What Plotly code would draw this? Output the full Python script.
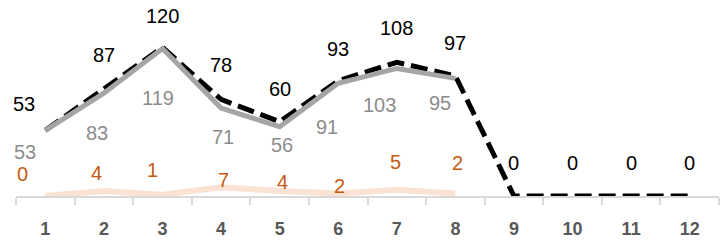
import plotly.graph_objects as go

categories = ["1", "2", "3", "4", "5", "6", "7", "8", "9", "10", "11", "12"]
series_black = [53, 87, 120, 78, 60, 93, 108, 97, 0, 0, 0, 0]
series_gray = [53, 83, 119, 71, 56, 91, 103, 95]
series_peach = [0, 4, 1, 7, 4, 2, 5, 2]

# label pixel offsets (style, not data)
black_dx = [-21, 0, 0, 0, 0, 0, 0, 0, 0, 0, 0, 0]
black_dy = [26, 33, 31, 34, 33, 32, 34, 33, 33, 33, 33, 33]
gray_dx = [-20, -7, -4, 2, 2, -11, -17, -15]
gray_dy = [-22, -40, -49, -29, -18, -44, -37, -25]
peach_dx = [-23, -7, -10, 2, 3, 1, -1, 2]
peach_dy = [22, 18, 25, 7, 9, 8, 28, 31]

FONT = "Liberation Sans"

fig = go.Figure()
fig.add_trace(go.Scatter(x=categories[:len(series_peach)], y=series_peach, mode="lines",
                         line=dict(color="#FBE3D4", width=6), hoverinfo="skip"))
fig.add_trace(go.Scatter(x=categories, y=series_black, mode="lines",
                         line=dict(color="#000000", width=5, dash="17px,7px"), hoverinfo="skip"))
fig.add_trace(go.Scatter(x=categories[:len(series_gray)], y=series_gray, mode="lines",
                         line=dict(color="#A5A5A5", width=5), hoverinfo="skip"))

ann = []
for i, v in enumerate(series_black):
    ann.append(dict(x=i, y=v, text=str(v), showarrow=False, borderpad=0,
                    xshift=black_dx[i], yshift=black_dy[i],
                    font=dict(family=FONT, size=20, color="#000000")))
for i, v in enumerate(series_gray):
    ann.append(dict(x=i, y=v, text=str(v), showarrow=False, borderpad=0,
                    xshift=gray_dx[i], yshift=gray_dy[i],
                    font=dict(family=FONT, size=20, color="#8C8C8C")))
for i, v in enumerate(series_peach):
    ann.append(dict(x=i, y=v, text=str(v), showarrow=False, borderpad=0,
                    xshift=peach_dx[i], yshift=peach_dy[i],
                    font=dict(family=FONT, size=20, color="#C55A11")))

fig.update_layout(
    width=721, height=241,
    margin=dict(l=16, r=2, t=35, b=45),
    paper_bgcolor="white", plot_bgcolor="white",
    showlegend=False,
    annotations=ann,
    xaxis=dict(type="category", categoryorder="array", categoryarray=categories,
               range=[-0.5, 11.5], showgrid=False, zeroline=False,
               showline=True, linecolor="#D9D9D9", linewidth=2,
               ticks="outside", tickson="boundaries", ticklen=7, tickcolor="#D9D9D9", tickwidth=2,
               tickfont=dict(family=FONT, size=18, color="#595959", weight="bold"),
               ticklabelstandoff=15),
    yaxis=dict(range=[0, 130], visible=False, showgrid=False, zeroline=False),
)

# remove the browser's default 8px body margin so the figure fills the window
fig.write_html("out.html", config={"displayModeBar": False, "staticPlot": True},
               post_script="document.body.style.margin='0px';document.body.style.overflow='hidden';")
